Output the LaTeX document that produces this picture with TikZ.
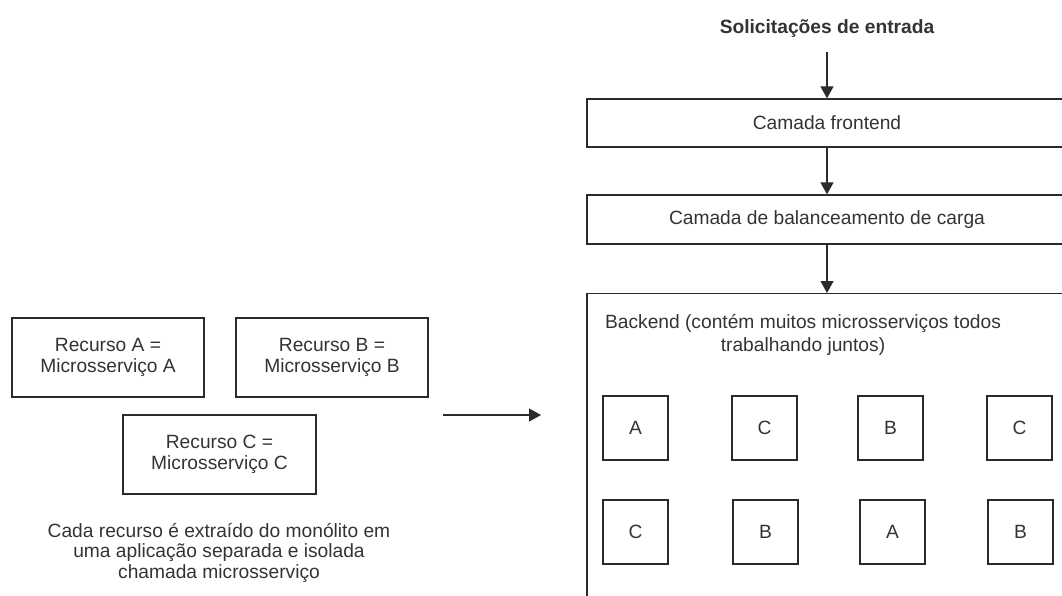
\documentclass[tikz,border=0pt]{standalone}
\usepackage{fontspec}
\setmainfont{Liberation Sans}
\usetikzlibrary{arrows.meta}
\definecolor{ink}{HTML}{2B2B2B}
\definecolor{txt}{HTML}{333333}
\begin{document}
\begin{tikzpicture}[x=1pt,y=-1pt,
  every node/.style={text=txt,font=\fontsize{19.2}{21}\selectfont},
  box/.style={draw=ink,line width=1.3pt,inner sep=0pt,align=center},
  svc/.style={box,minimum width=65pt,minimum height=64pt},
  link/.style={draw=ink,line width=1.3pt,-{Triangle[width=13pt,length=12pt]}}]
\useasboundingbox (0,0) rectangle (1062,595);
\clip (0,0) rectangle (1062,595);

% left side: features split into services
\node[box,minimum width=192pt,minimum height=79pt] (ra) at (108,357.5) {Recurso A =\\Microsservi\c{c}o A};
\node[box,minimum width=192pt,minimum height=79pt] (rb) at (332,357.5) {Recurso B =\\Microsservi\c{c}o B};
\node[box,minimum width=193pt,minimum height=79pt] (rc) at (219.5,454.5) {Recurso C =\\Microsservi\c{c}o C};
\node[align=center,font=\fontsize{19.2}{20.5}\selectfont] (note) at (219,552.5)
  {Cada recurso é extraído do monólito em\\uma aplicação separada e isolada\\chamada microsserviço};

\coordinate (hs) at (443,415);
\coordinate (he) at (541,415);
\draw[link] (hs) -- (he);

% right side: layered architecture
\node[font=\bfseries\fontsize{19.2}{21}\selectfont] (req) at (827,29) {Solicitações de entrada};
\node[box,minimum width=480pt,minimum height=48pt] (fe) at (827,123) {Camada frontend};
\node[box,minimum width=480pt,minimum height=49pt] (lb) at (827,219.5) {Camada de balanceamento de carga};
\node[box,minimum width=480pt,minimum height=320pt,anchor=north] (be) at (827,293) {};
\node[align=center,font=\fontsize{19.2}{23}\selectfont] (betxt) at (803,335)
  {Backend (contém muitos microsserviços todos\\trabalhando juntos)};

\draw[link] (req.south) ++(0,11) coordinate (rs) (rs) -- (fe.north);
\draw[link] (fe) -- (lb);
\draw[link] (lb) -- (be.north);

% service instances inside the backend
\node[svc] (s1) at (635.5,428) {A};
\node[svc] (s2) at (764.5,428) {C};
\node[svc] (s3) at (890.5,428) {B};
\node[svc] (s4) at (1019.5,428) {C};
\node[svc] (s5) at (635.5,532) {C};
\node[svc] (s6) at (765.5,532) {B};
\node[svc] (s7) at (892.5,532) {A};
\node[svc] (s8) at (1020.5,532) {B};
\end{tikzpicture}
\end{document}
